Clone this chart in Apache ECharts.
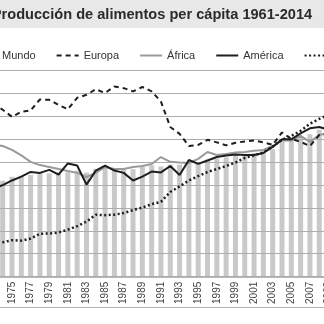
<!DOCTYPE html>
<html>
<head>
<meta charset="utf-8">
<script src="https://cdn.jsdelivr.net/npm/echarts@6/dist/echarts.min.js"></script>
<style>
  html, body { margin: 0; padding: 0; background: #fff; }
  #chart { width: 324px; height: 324px; }
</style>
</head>
<body>
<div id="chart"></div>
<script>
// Food production per capita index (2004-2006 = 100)
const years = ['1973','1974','1975','1976','1977','1978','1979','1980','1981','1982','1983','1984','1985','1986','1987','1988','1989','1990','1991','1992','1993','1994','1995','1996','1997','1998','1999','2000','2001','2002','2003','2004','2005','2006','2007','2008','2009'];

const mundo = [82.5, 81.8, 83.5, 84, 84.3, 85.2, 85, 84.8, 85.5, 86.2, 85.3, 87, 87.5, 87.2, 86.5, 86.8, 87.8, 88.5, 88, 88.8, 88.8, 89.5, 89.5, 91, 91.5, 92, 93, 93.5, 93.8, 93.8, 95.5, 99, 99.5, 100.5, 102, 104, 104];

const europa = [115.7, 112.7, 109.6, 111.8, 112.4, 117.2, 117.0, 114.8, 112.9, 117.9, 119.2, 121.6, 120.0, 122.8, 122.1, 120.7, 122.6, 120.7, 116.2, 105.2, 102.2, 96.9, 97.4, 99.6, 98.5, 97.2, 98.3, 98.9, 99.3, 98.5, 97.4, 102.8, 100, 98.7, 96.9, 101.7, 101.5];

const africa = [97.5, 96.9, 95.2, 92.8, 90.0, 88.6, 87.8, 86.9, 86.0, 85.2, 83.4, 85.2, 87.8, 86.9, 86.9, 87.8, 88.2, 89.1, 92.1, 90.0, 89.7, 89.5, 91.3, 94.3, 93.0, 93.4, 94.1, 94.3, 94.8, 95.2, 96.9, 99.3, 99.3, 101.3, 98.7, 101.7, 102.5];

const america = [78.2, 79.9, 81.9, 83.6, 85.6, 85.2, 86.5, 84.5, 89.3, 88.4, 80.1, 86.2, 88.4, 86.2, 85.2, 81.9, 83.6, 85.8, 85.4, 88.2, 84.3, 90.8, 89.1, 90.6, 92.1, 92.8, 93.2, 93.0, 93.0, 93.9, 96.5, 99.8, 99.8, 102.4, 104.6, 105.2, 104];

const asia = [54.6, 55.0, 55.9, 55.7, 56.6, 58.7, 58.8, 59.2, 60.5, 62.0, 64.0, 67.0, 66.8, 67.0, 67.7, 69.0, 70.1, 71.6, 72.6, 76.9, 79.3, 81.9, 83.8, 85.6, 86.9, 88.2, 89.7, 91.7, 92.8, 94.1, 96.7, 99.6, 101.3, 103.5, 106.6, 108.7, 110.5];

const seriesNames = ['Mundo', 'Europa', 'África', 'América', 'Asia'];
const titleText = 'Producción de alimentos per cápita 1961-2014';

const FONT = '"Liberation Sans", Arial, sans-serif';

const chart = echarts.init(document.getElementById('chart'), null, { renderer: 'canvas' });

chart.setOption({
  animation: false,
  backgroundColor: '#ffffff',
  graphic: [
    { type: 'rect', z: -10, shape: { x: 0, y: 0, width: 324, height: 28 }, style: { fill: '#e8e8e8' } },
    { type: 'text', z: 10, x: -8.2, y: 7.5,
      style: { text: titleText, font: 'bold 14.6px "Liberation Sans", Arial, sans-serif', fill: '#2b2b2b', textVerticalAlign: 'top' } },
    { type: 'line', z: -10, shape: { x1: 0, y1: 307.5, x2: 324, y2: 307.5 }, style: { stroke: '#b4b4b4', lineWidth: 1 } }
  ],
  legend: {
    data: seriesNames,
    left: -25,
    top: 50,
    width: 600,
    padding: 0,
    itemGap: 20,
    itemWidth: 22,
    itemHeight: 0.1,
    textStyle: { fontFamily: FONT, fontSize: 11, color: '#333' }
  },
  grid: { left: -11.28, right: -9.2, top: 70, bottom: 47.3, containLabel: false, outerBoundsMode: 'none' },
  xAxis: {
    type: 'category',
    data: years,
    boundaryGap: true,
    axisLine: { show: true, lineStyle: { color: '#a0a0a0', width: 1.5 } },
    axisTick: { show: false },
    axisLabel: { interval: 1, rotate: 90, margin: 5, fontFamily: FONT, fontSize: 10, color: '#444' }
  },
  yAxis: {
    type: 'value',
    min: 40,
    max: 130,
    interval: 10,
    z: 3,
    axisLine: { show: false },
    axisTick: { show: false },
    axisLabel: { show: false },
    splitLine: { show: true, lineStyle: { color: '#adadad', width: 1 } }
  },
  series: [
    { name: 'Mundo', type: 'bar', data: mundo, barWidth: 5, clip: true, z: 2,
      itemStyle: { color: '#c9c9c9' } },
    { name: 'Europa', type: 'line', data: europa, symbol: 'none', z: 5,
      lineStyle: { color: '#1e1e1e', width: 2, type: [5, 4] }, itemStyle: { color: '#1e1e1e' } },
    { name: 'África', type: 'line', data: africa, symbol: 'none', z: 4,
      lineStyle: { color: '#9a9a9a', width: 2 }, itemStyle: { color: '#9a9a9a' } },
    { name: 'América', type: 'line', data: america, symbol: 'none', z: 5,
      lineStyle: { color: '#1e1e1e', width: 2 }, itemStyle: { color: '#1e1e1e' } },
    { name: 'Asia', type: 'line', data: asia, symbol: 'none', z: 5,
      lineStyle: { color: '#1e1e1e', width: 2.5, type: [2, 2.5] }, itemStyle: { color: '#1e1e1e' } }
  ]
});
</script>
</body>
</html>
